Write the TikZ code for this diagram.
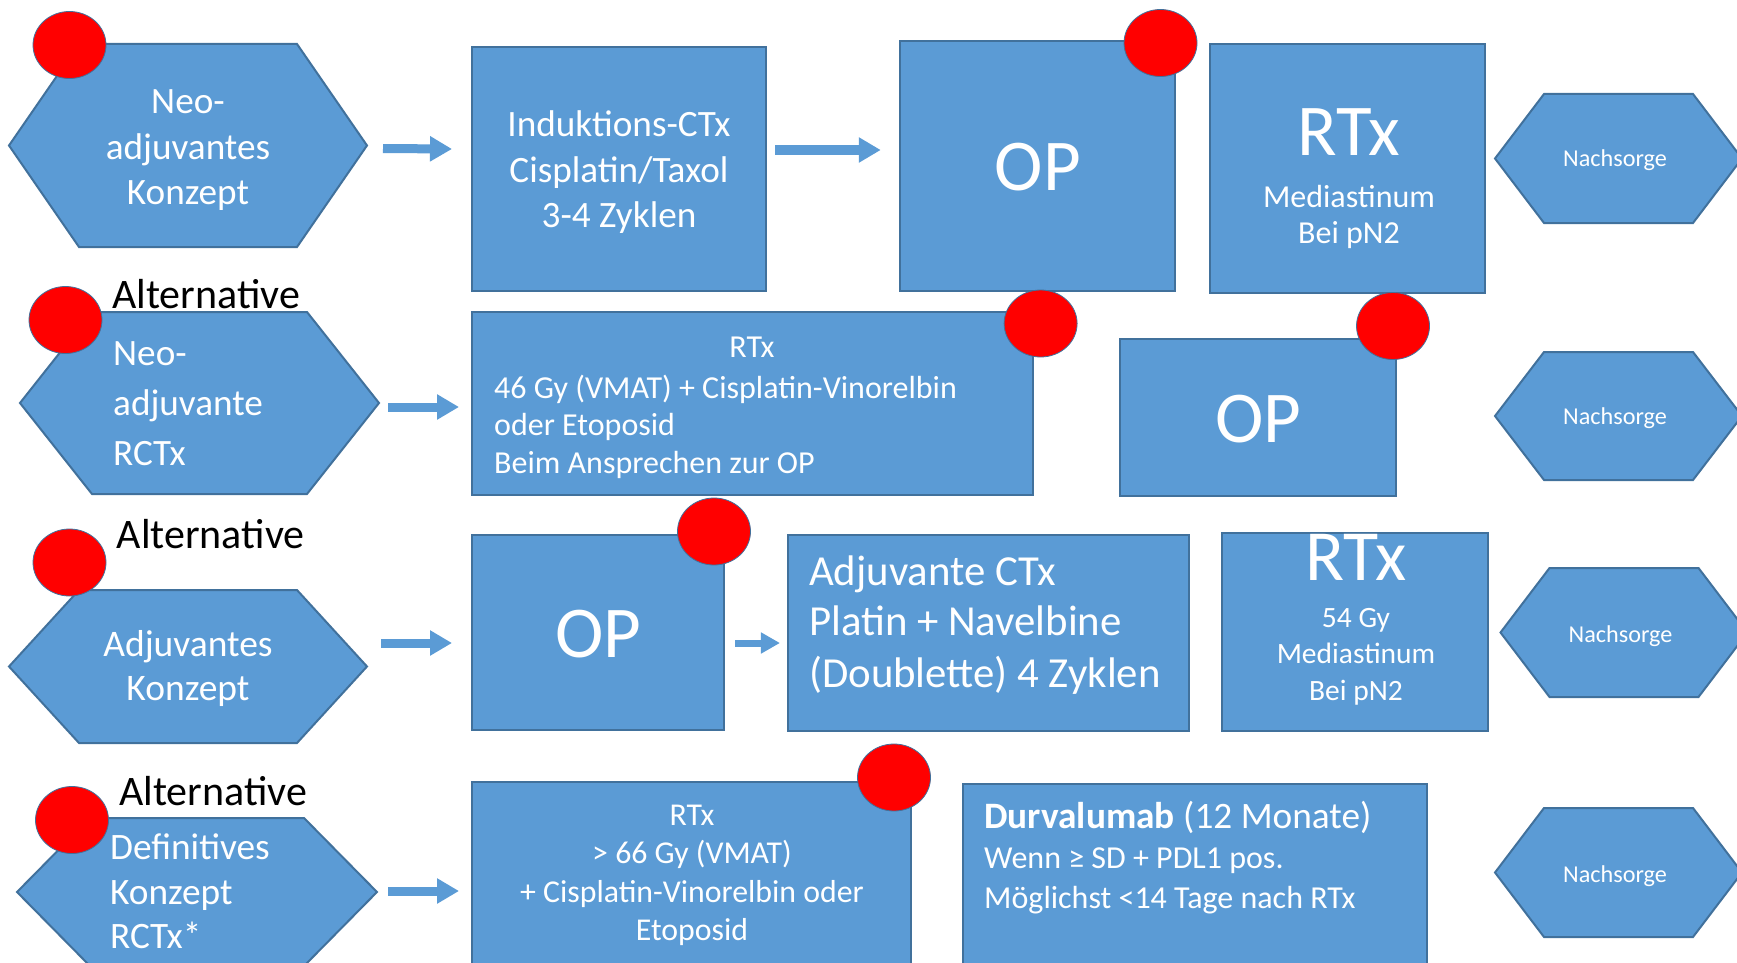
\documentclass[tikz,border=0pt]{standalone}
\usepackage{fontspec}
\setmainfont{Carlito}
\usetikzlibrary{arrows.meta,calc,shapes.geometric}
\definecolor{obl}{HTML}{5B9BD5}
\definecolor{obd}{HTML}{41719C}
\newcommand\fsz[1]{\fontsize{#1}{#1}\selectfont}
\tikzset{
  shapebox/.style={rectangle,fill=obl,draw=obd,line width=2pt,inner sep=0pt,outer sep=0pt},
  hexanchor/.style={rectangle,inner sep=0pt,outer sep=0pt},
  hexfill/.style={fill=obl,draw=obd,line width=2pt},
  wt/.style={text=white,inner sep=0pt,anchor=base},
  wl/.style={text=white,inner sep=0pt,anchor=base west},
  alt/.style={text=black,inner sep=0pt,anchor=base west,font=\fsz{42}},
  dot/.style={ellipse,fill=red,draw=obd,line width=0.8pt,minimum width=73pt,minimum height=67pt,inner sep=0pt},
  fatarrow/.style={draw=obl,line width=9pt,-{Triangle[length=22pt,width=24pt]}},
}
\newcommand\hexdraw[2]{\filldraw[hexfill] (#1.west) -- ($(#1.north west)+(#2,0)$) -- ($(#1.north east)+(-#2,0)$) -- (#1.east) -- ($(#1.south east)+(-#2,0)$) -- ($(#1.south west)+(#2,0)$) -- cycle;}
\begin{document}
\begin{tikzpicture}[x=1pt,y=-1pt]
\useasboundingbox (0,0) rectangle (1737,963);
\fill[white] (0,0) rectangle (1737,963);
\clip (0,0) rectangle (1737,963);

% hexagons
\node[hexanchor,minimum width=358pt,minimum height=203pt] (h1) at (188,145.5) {};
\hexdraw{h1}{70}
\node[hexanchor,minimum width=359pt,minimum height=182pt] (h2) at (199.5,403) {};
\hexdraw{h2}{72}
\node[hexanchor,minimum width=358pt,minimum height=153pt] (h3) at (188,666.5) {};
\hexdraw{h3}{70}
\node[hexanchor,minimum width=360pt,minimum height=148pt] (h4) at (197,892) {};
\hexdraw{h4}{73}
\node[hexanchor,minimum width=247pt,minimum height=129pt] (n1) at (1618.5,158.5) {};
\hexdraw{n1}{49}
\node[hexanchor,minimum width=247pt,minimum height=128pt] (n2) at (1618.5,416) {};
\hexdraw{n2}{49}
\node[hexanchor,minimum width=247pt,minimum height=129pt] (n3) at (1624,632.5) {};
\hexdraw{n3}{49}
\node[hexanchor,minimum width=247pt,minimum height=129pt] (n4) at (1618.5,872.5) {};
\hexdraw{n4}{49}

% boxes
\node[shapebox,minimum width=294pt,minimum height=244pt] (b1) at (619,169) {};
\node[shapebox,minimum width=275.5pt,minimum height=250pt] (b2) at (1037.5,166) {};
\node[shapebox,minimum width=275pt,minimum height=249pt] (b3) at (1347.8,168.5) {};
\node[shapebox,minimum width=561pt,minimum height=183pt] (b4) at (752.5,403.5) {};
\node[shapebox,minimum width=275.5pt,minimum height=157pt] (b5) at (1258,417.5) {};
\node[shapebox,minimum width=252pt,minimum height=195pt] (b6) at (598,632.5) {};
\node[shapebox,minimum width=401.5pt,minimum height=196pt] (b7) at (988.7,633) {};
\node[shapebox,minimum width=266.5pt,minimum height=198pt] (b8) at (1354.8,632) {};
\node[shapebox,minimum width=439pt,minimum height=218pt] (b9) at (691.5,891) {};
\node[shapebox,minimum width=464pt,minimum height=214pt] (b10) at (1195,891) {};

% row 1 texts
\node[wt,font=\fsz{37.2}] (t1a) at (188,114) {Neo-};
\node[wt,font=\fsz{37.2}] (t1b) at (188,159) {adjuvantes};
\node[wt,font=\fsz{37.2}] (t1c) at (188,204) {Konzept};
\node[wt,font=\fsz{37.2}] (t2a) at (619,137) {Induktions-CTx};
\node[wt,font=\fsz{37.2}] (t2b) at (619,182) {Cisplatin/Taxol};
\node[wt,font=\fsz{37.2}] (t2c) at (619,227) {3-4 Zyklen};
\node[wt,font=\fsz{73}] (t3) at (1038,190) {OP};
\node[wt,font=\fsz{73}] (t4a) at (1349,156) {RTx};
\node[wt,font=\fsz{32}] (t4b) at (1349,207) {Mediastinum};
\node[wt,font=\fsz{32}] (t4c) at (1349,243) {Bei pN2};
\node[wt,font=\fsz{24.2}] (t5) at (1615,167) {Nachsorge};

% row 2 texts
\node[alt] (alt1) at (112,308) {Alternative};
\node[wl,font=\fsz{37.2}] (t6a) at (113,365) {Neo-};
\node[wl,font=\fsz{37.2}] (t6b) at (113,415) {adjuvante};
\node[wl,font=\fsz{37.2}] (t6c) at (113,465) {RCTx};
\node[wt,font=\fsz{32}] (t7a) at (752,357) {RTx};
\node[wl,font=\fsz{32}] (t7b) at (494,398) {46 Gy (VMAT) + Cisplatin-Vinorelbin};
\node[wl,font=\fsz{32}] (t7c) at (494,435) {oder Etoposid};
\node[wl,font=\fsz{32}] (t7d) at (494,473) {Beim Ansprechen zur OP};
\node[wt,font=\fsz{73}] (t8) at (1258.6,442) {OP};
\node[wt,font=\fsz{24.2}] (t9) at (1615,424) {Nachsorge};

% row 3 texts
\node[alt] (alt2) at (116.5,548) {Alternative};
\node[wt,font=\fsz{37.5}] (t10a) at (188,656) {Adjuvantes};
\node[wt,font=\fsz{37.5}] (t10b) at (188,700) {Konzept};
\node[wt,font=\fsz{73}] (t11) at (598.5,657) {OP};
\node[wl,font=\fsz{42.8}] (t12a) at (809,585) {Adjuvante CTx};
\node[wl,font=\fsz{42.8}] (t12b) at (809,635) {Platin + Navelbine};
\node[wl,font=\fsz{42.8}] (t12c) at (809,687) {(Doublette) 4 Zyklen};
\node[wt,font=\fsz{72}] (t13a) at (1356,580) {RTx};
\node[wt,font=\fsz{29.5}] (t13b) at (1356,627) {54 Gy};
\node[wt,font=\fsz{29.5}] (t13c) at (1356,663) {Mediastinum};
\node[wt,font=\fsz{29.5}] (t13d) at (1356,700) {Bei pN2};
\node[wt,font=\fsz{24.2}] (t14) at (1620.5,642) {Nachsorge};

% row 4 texts
\node[alt] (alt3) at (119,805) {Alternative};
\node[wl,font=\fsz{37.3}] (t15a) at (110,859) {Definitives};
\node[wl,font=\fsz{37.3}] (t15b) at (110,904) {Konzept};
\node[wl,font=\fsz{37.3}] (t15c) at (110,948) {RCTx*};
\node[wt,font=\fsz{31.8}] (t16a) at (692,825) {RTx};
\node[wt,font=\fsz{31.8}] (t16b) at (692,863) {> 66 Gy (VMAT)};
\node[wt,font=\fsz{31.8}] (t16c) at (692,902) {+ Cisplatin-Vinorelbin oder};
\node[wt,font=\fsz{31.8}] (t16d) at (692,940) {Etoposid};
\node[wl,font=\fsz{37.3}] (t17a) at (984,828) {\textbf{Durvalumab} (12 Monate)};
\node[wl,font=\fsz{32}] (t17b) at (984,868) {Wenn ≥ SD + PDL1 pos.};
\node[wl,font=\fsz{32}] (t17c) at (984,908) {Möglichst <14 Tage nach RTx};
\node[wt,font=\fsz{24.2}] (t18) at (1615,882) {Nachsorge};

% arrows
\draw[fatarrow] ($(h1.east)+(16,3)$) -- ($(b1.west)+(-20,-20)$);
\draw[fatarrow] ($(b1.east)+(9,-19)$) -- ($(b2.west)+(-19,-16)$);
\draw[fatarrow] ($(h2.east)+(9,4)$) -- ($(b4.west)+(-13,3.5)$);
\draw[fatarrow] ($(h3.east)+(14,-23.5)$) -- ($(b6.west)+(-20,10.5)$);
\draw[fatarrow,line width=7pt,-{Triangle[length=19pt,width=20pt]}] ($(b6.east)+(11,10.5)$) -- ($(b7.west)+(-8,10)$);
\draw[fatarrow] ($(h4.east)+(11,-1)$) -- ($(b9.west)+(-13,0)$);

% red dots
\node[dot] (c1) at (69.5,45) {};
\node[dot] (c2) at (65.5,320) {};
\node[dot] (c3) at (69.5,562.5) {};
\node[dot] (c4) at (72,820) {};
\node[dot] (c5) at (1160.5,43) {};
\node[dot] (c6) at (1393,326) {};
\node[dot] (c7) at (1040.6,323.5) {};
\node[dot] (c8) at (714,531.5) {};
\node[dot] (c9) at (894,777.5) {};
\end{tikzpicture}
\end{document}
